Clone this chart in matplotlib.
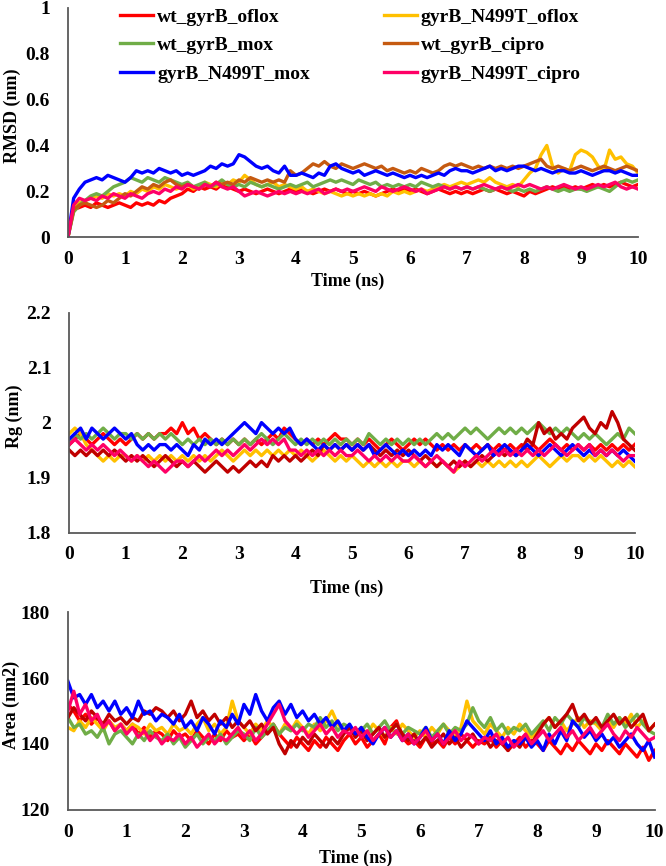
import numpy as np
import matplotlib
matplotlib.use("Agg")
import matplotlib.pyplot as plt

plt.rcParams['font.family'] = ['Liberation Serif', 'DejaVu Serif']
plt.rcParams['font.weight'] = 'bold'

time_ns = np.round(np.arange(0, 10.05, 0.1), 1)

labels = ['wt_gyrB_oflox', 'gyrB_N499T_oflox', 'wt_gyrB_mox',
          'wt_gyrB_cipro', 'gyrB_N499T_mox', 'gyrB_N499T_cipro']

# RMSD (nm)
rmsd_wt_oflox = [0.0, 0.12, 0.13, 0.14, 0.13, 0.15, 0.14, 0.13, 0.14, 0.15,
                 0.14, 0.13, 0.15, 0.14, 0.15, 0.14, 0.16, 0.15, 0.17, 0.18,
                 0.19, 0.21, 0.20, 0.22, 0.21, 0.22, 0.21, 0.23, 0.22, 0.21,
                 0.20, 0.21, 0.20, 0.19, 0.20, 0.21, 0.20, 0.19, 0.20, 0.21,
                 0.20, 0.21, 0.20, 0.19, 0.20, 0.21, 0.20, 0.21, 0.20, 0.19,
                 0.20, 0.19, 0.20, 0.19, 0.18, 0.19, 0.20, 0.21, 0.20, 0.21,
                 0.20, 0.21, 0.20, 0.19, 0.20, 0.21, 0.20, 0.19, 0.20, 0.19,
                 0.20, 0.19, 0.20, 0.21, 0.20, 0.21, 0.20, 0.19, 0.20, 0.19,
                 0.18, 0.20, 0.19, 0.20, 0.21, 0.22, 0.21, 0.22, 0.21, 0.22,
                 0.21, 0.22, 0.23, 0.22, 0.23, 0.22, 0.23, 0.24, 0.23, 0.22,
                 0.23]
rmsd_mut_oflox = [0.0, 0.13, 0.15, 0.16, 0.17, 0.18, 0.17, 0.19, 0.18, 0.19,
                  0.18, 0.20, 0.19, 0.21, 0.20, 0.22, 0.21, 0.23, 0.22, 0.21,
                  0.22, 0.23, 0.21, 0.22, 0.24, 0.23, 0.22, 0.24, 0.23, 0.25,
                  0.24, 0.27, 0.25, 0.23, 0.22, 0.23, 0.24, 0.22, 0.23, 0.22,
                  0.21, 0.22, 0.20, 0.21, 0.20, 0.19, 0.20, 0.19, 0.18, 0.19,
                  0.18, 0.19, 0.18, 0.19, 0.18, 0.19, 0.18, 0.20, 0.19, 0.20,
                  0.19, 0.20, 0.21, 0.20, 0.21, 0.22, 0.23, 0.22, 0.23, 0.24,
                  0.23, 0.24, 0.25, 0.24, 0.26, 0.24, 0.23, 0.22, 0.23, 0.22,
                  0.25, 0.28, 0.30, 0.36, 0.40, 0.31, 0.28, 0.30, 0.29, 0.36,
                  0.38, 0.37, 0.35, 0.31, 0.29, 0.38, 0.34, 0.35, 0.32, 0.31,
                  0.28]
rmsd_wt_mox = [0.0, 0.11, 0.14, 0.16, 0.18, 0.19, 0.18, 0.20, 0.22, 0.23,
               0.24, 0.26, 0.25, 0.24, 0.26, 0.25, 0.24, 0.26, 0.25, 0.24,
               0.23, 0.24, 0.22, 0.23, 0.24, 0.22, 0.23, 0.25, 0.23, 0.22,
               0.23, 0.22, 0.24, 0.23, 0.22, 0.23, 0.22, 0.21, 0.22, 0.23,
               0.22, 0.23, 0.24, 0.22, 0.23, 0.24, 0.25, 0.24, 0.25, 0.24,
               0.23, 0.25, 0.24, 0.23, 0.24, 0.22, 0.23, 0.22, 0.23, 0.22,
               0.23, 0.22, 0.24, 0.23, 0.22, 0.23, 0.22, 0.21, 0.22, 0.21,
               0.22, 0.21, 0.22, 0.21, 0.20, 0.21, 0.22, 0.21, 0.20, 0.21,
               0.20, 0.21, 0.20, 0.21, 0.22, 0.21, 0.20, 0.21, 0.20, 0.21,
               0.21, 0.20, 0.21, 0.22, 0.21, 0.20, 0.22, 0.24, 0.25, 0.24,
               0.25]
rmsd_wt_cipro = [0.0, 0.12, 0.14, 0.15, 0.14, 0.13, 0.14, 0.16, 0.15, 0.17,
                 0.19, 0.18, 0.20, 0.22, 0.21, 0.23, 0.22, 0.24, 0.25, 0.23,
                 0.22, 0.23, 0.22, 0.21, 0.23, 0.22, 0.24, 0.23, 0.24, 0.23,
                 0.25, 0.24, 0.26, 0.25, 0.24, 0.25, 0.24, 0.25, 0.24, 0.29,
                 0.27, 0.28, 0.30, 0.32, 0.31, 0.33, 0.31, 0.30, 0.32, 0.31,
                 0.30, 0.31, 0.32, 0.31, 0.30, 0.31, 0.29, 0.30, 0.29, 0.28,
                 0.29, 0.28, 0.30, 0.29, 0.28, 0.29, 0.31, 0.32, 0.31, 0.32,
                 0.31, 0.30, 0.31, 0.30, 0.31, 0.30, 0.31, 0.30, 0.31, 0.30,
                 0.31, 0.32, 0.33, 0.34, 0.31, 0.30, 0.31, 0.30, 0.29, 0.30,
                 0.31, 0.30, 0.29, 0.30, 0.31, 0.30, 0.29, 0.30, 0.31, 0.30,
                 0.29]
rmsd_mut_mox = [0.0, 0.17, 0.21, 0.24, 0.25, 0.26, 0.25, 0.27, 0.26, 0.25,
                0.24, 0.26, 0.29, 0.28, 0.29, 0.28, 0.30, 0.29, 0.28, 0.29,
                0.27, 0.28, 0.27, 0.28, 0.29, 0.31, 0.30, 0.32, 0.31, 0.32,
                0.36, 0.35, 0.33, 0.31, 0.30, 0.31, 0.29, 0.28, 0.31, 0.27,
                0.27, 0.28, 0.27, 0.26, 0.28, 0.27, 0.31, 0.32, 0.30, 0.29,
                0.28, 0.29, 0.27, 0.28, 0.29, 0.28, 0.27, 0.28, 0.27, 0.26,
                0.27, 0.26, 0.27, 0.26, 0.27, 0.28, 0.27, 0.29, 0.30, 0.29,
                0.29, 0.28, 0.29, 0.30, 0.31, 0.29, 0.30, 0.29, 0.30, 0.31,
                0.31, 0.30, 0.29, 0.30, 0.29, 0.28, 0.29, 0.29, 0.28, 0.28,
                0.29, 0.28, 0.27, 0.28, 0.29, 0.29, 0.28, 0.29, 0.28, 0.27,
                0.27]
rmsd_mut_cipro = [0.0, 0.14, 0.17, 0.16, 0.17, 0.16, 0.18, 0.17, 0.19, 0.18,
                  0.17, 0.19, 0.18, 0.17, 0.19, 0.20, 0.19, 0.21, 0.20, 0.22,
                  0.21, 0.23, 0.22, 0.21, 0.23, 0.22, 0.24, 0.22, 0.21, 0.22,
                  0.20, 0.18, 0.19, 0.20, 0.19, 0.18, 0.19, 0.20, 0.19, 0.20,
                  0.19, 0.20, 0.19, 0.20, 0.21, 0.19, 0.20, 0.21, 0.20, 0.21,
                  0.20, 0.21, 0.22, 0.21, 0.20, 0.22, 0.21, 0.20, 0.21, 0.22,
                  0.21, 0.20, 0.21, 0.19, 0.20, 0.21, 0.22, 0.21, 0.22, 0.21,
                  0.22, 0.21, 0.22, 0.23, 0.22, 0.21, 0.22, 0.21, 0.22, 0.23,
                  0.22, 0.23, 0.22, 0.21, 0.22, 0.21, 0.22, 0.23, 0.22, 0.21,
                  0.22, 0.21, 0.22, 0.23, 0.22, 0.23, 0.24, 0.22, 0.21, 0.22,
                  0.21]

# Rg (nm)
rg_wt_oflox = [1.96, 1.97, 1.98, 1.97, 1.96, 1.97, 1.98, 1.97, 1.96, 1.97,
               1.96, 1.97, 1.98, 1.97, 1.98, 1.97, 1.98, 1.98, 1.99, 1.98,
               2.00, 1.98, 1.99, 1.97, 1.98, 1.97, 1.96, 1.97, 1.96, 1.97,
               1.96, 1.97, 1.96, 1.97, 1.96, 1.97, 1.98, 1.97, 1.99, 1.98,
               1.97, 1.96, 1.97, 1.96, 1.97, 1.96, 1.97, 1.98, 1.97, 1.97,
               1.96, 1.97, 1.96, 1.97, 1.96, 1.95, 1.96, 1.97, 1.96, 1.95,
               1.96, 1.97, 1.96, 1.97, 1.96, 1.95, 1.96, 1.95, 1.96, 1.95,
               1.96, 1.95, 1.96, 1.95, 1.96, 1.95, 1.96, 1.95, 1.96, 1.95,
               1.96, 1.95, 1.96, 1.95, 1.96, 1.97, 1.96, 1.95, 1.96, 1.95,
               1.96, 1.95, 1.96, 1.95, 1.96, 1.95, 1.96, 1.95, 1.96, 1.95,
               1.96]
rg_mut_oflox = [1.98, 1.99, 1.98, 1.96, 1.95, 1.94, 1.93, 1.94, 1.93, 1.94,
                1.94, 1.93, 1.94, 1.93, 1.94, 1.93, 1.94, 1.93, 1.94, 1.93,
                1.94, 1.93, 1.94, 1.93, 1.94, 1.93, 1.94, 1.95, 1.94, 1.93,
                1.94, 1.95, 1.94, 1.95, 1.94, 1.95, 1.94, 1.95, 1.94, 1.95,
                1.94, 1.95, 1.94, 1.93, 1.94, 1.95, 1.94, 1.93, 1.94, 1.93,
                1.94, 1.93, 1.92, 1.93, 1.92, 1.93, 1.92, 1.93, 1.92, 1.93,
                1.93, 1.92, 1.93, 1.92, 1.93, 1.92, 1.93, 1.92, 1.91, 1.92,
                1.93, 1.92, 1.93, 1.92, 1.93, 1.92, 1.93, 1.92, 1.93, 1.92,
                1.93, 1.92, 1.93, 1.94, 1.93, 1.92, 1.93, 1.94, 1.93, 1.94,
                1.94, 1.93, 1.94, 1.93, 1.94, 1.93, 1.92, 1.93, 1.92, 1.93,
                1.92]
rg_wt_mox = [1.96, 1.98, 1.97, 1.98, 1.97, 1.98, 1.99, 1.98, 1.97, 1.98,
             1.98, 1.97, 1.98, 1.97, 1.98, 1.97, 1.98, 1.97, 1.98, 1.97,
             1.96, 1.97, 1.96, 1.97, 1.96, 1.97, 1.96, 1.97, 1.96, 1.97,
             1.96, 1.97, 1.96, 1.97, 1.98, 1.97, 1.96, 1.97, 1.98, 1.97,
             1.96, 1.97, 1.96, 1.97, 1.96, 1.97, 1.96, 1.97, 1.96, 1.97,
             1.96, 1.97, 1.96, 1.98, 1.97, 1.96, 1.97, 1.96, 1.97, 1.96,
             1.97, 1.96, 1.97, 1.96, 1.97, 1.98, 1.97, 1.98, 1.97, 1.98,
             1.99, 1.98, 1.99, 1.98, 1.97, 1.98, 1.99, 1.98, 1.99, 1.98,
             1.99, 1.98, 1.99, 2.00, 1.99, 1.98, 1.99, 1.98, 1.99, 1.98,
             1.97, 1.98, 1.97, 1.98, 1.97, 1.96, 1.97, 1.98, 1.97, 1.99,
             1.98]
rg_wt_cipro = [1.95, 1.94, 1.95, 1.94, 1.95, 1.94, 1.95, 1.94, 1.95, 1.94,
               1.93, 1.94, 1.93, 1.94, 1.93, 1.92, 1.93, 1.94, 1.93, 1.92,
               1.93, 1.92, 1.93, 1.92, 1.91, 1.92, 1.93, 1.92, 1.91, 1.92,
               1.91, 1.92, 1.93, 1.92, 1.93, 1.92, 1.94, 1.93, 1.94, 1.93,
               1.94, 1.93, 1.94, 1.95, 1.94, 1.96, 1.95, 1.96, 1.95, 1.96,
               1.95, 1.96, 1.95, 1.96, 1.95, 1.94, 1.95, 1.94, 1.95, 1.94,
               1.95, 1.94, 1.93, 1.94, 1.93, 1.92, 1.93, 1.92, 1.93, 1.92,
               1.93, 1.92, 1.93, 1.94, 1.93, 1.94, 1.95, 1.94, 1.95, 1.94,
               1.95, 1.97, 1.96, 2.00, 1.98, 1.99, 1.97, 1.98, 1.97, 1.99,
               2.00, 2.01, 1.99, 1.98, 2.00, 1.99, 2.02, 2.00, 1.97, 1.96,
               1.95]
rg_mut_mox = [1.97, 1.98, 1.99, 1.97, 1.99, 1.98, 1.97, 1.98, 1.99, 1.98,
              1.97, 1.98, 1.96, 1.95, 1.96, 1.95, 1.96, 1.96, 1.95, 1.96,
              1.95, 1.94, 1.96, 1.95, 1.97, 1.96, 1.97, 1.96, 1.97, 1.98,
              1.99, 2.00, 1.99, 1.98, 2.00, 1.99, 1.98, 1.99, 1.98, 1.99,
              1.97, 1.96, 1.97, 1.96, 1.95, 1.96, 1.95, 1.96, 1.95, 1.96,
              1.95, 1.96, 1.95, 1.96, 1.94, 1.95, 1.96, 1.95, 1.94, 1.95,
              1.94, 1.95, 1.94, 1.95, 1.94, 1.96, 1.95, 1.96, 1.95, 1.94,
              1.96, 1.95, 1.94, 1.95, 1.96, 1.94, 1.95, 1.96, 1.95, 1.94,
              1.95, 1.96, 1.95, 1.94, 1.95, 1.96, 1.95, 1.94, 1.95, 1.96,
              1.95, 1.94, 1.95, 1.94, 1.95, 1.94, 1.95, 1.94, 1.95, 1.94,
              1.93]
rg_mut_cipro = [1.96, 1.97, 1.96, 1.95, 1.96, 1.95, 1.96, 1.95, 1.94, 1.95,
                1.94, 1.93, 1.94, 1.93, 1.92, 1.93, 1.92, 1.91, 1.92, 1.93,
                1.93, 1.92, 1.93, 1.94, 1.93, 1.94, 1.95, 1.94, 1.95, 1.94,
                1.95, 1.96, 1.95, 1.96, 1.97, 1.96, 1.97, 1.96, 1.97, 1.95,
                1.95, 1.94, 1.95, 1.94, 1.95, 1.94, 1.95, 1.94, 1.95, 1.94,
                1.94, 1.95, 1.94, 1.93, 1.94, 1.93, 1.94, 1.93, 1.94, 1.93,
                1.93, 1.94, 1.93, 1.92, 1.93, 1.94, 1.93, 1.92, 1.91, 1.93,
                1.92, 1.93, 1.94, 1.93, 1.94, 1.95, 1.94, 1.95, 1.94, 1.95,
                1.94, 1.95, 1.94, 1.95, 1.94, 1.95, 1.96, 1.95, 1.94, 1.95,
                1.96, 1.95, 1.96, 1.94, 1.95, 1.94, 1.95, 1.94, 1.93, 1.94,
                1.94]

# SASA area (nm2)
area_wt_oflox = [152, 150, 147, 149, 146, 148, 145, 147, 144, 146,
                 144, 146, 143, 145, 142, 144, 143, 141, 144, 142,
                 143, 141, 144, 142, 140, 143, 141, 144, 142, 143,
                 141, 143, 140, 142, 144, 146, 143, 141, 139, 142,
                 140, 138, 141, 139, 142, 140, 138, 141, 143, 140,
                 142, 139, 141, 143, 140, 145, 147, 142, 140, 141,
                 139, 142, 140, 141, 139, 142, 140, 143, 141, 139,
                 141, 140, 142, 139, 141, 138, 140, 142, 139, 141,
                 140, 138, 141, 139, 137, 140, 138, 141, 139, 137,
                 140, 138, 141, 139, 137, 140, 138, 136, 139, 135,
                 138]
area_mut_oflox = [145, 144, 147, 145, 148, 146, 144, 147, 145, 146,
                  144, 146, 145, 143, 146, 144, 145, 143, 146, 144,
                  145, 143, 146, 148, 144, 146, 143, 145, 153, 147,
                  145, 143, 146, 144, 147, 145, 143, 146, 144, 147,
                  145, 143, 146, 144, 147, 150, 146, 144, 145, 143,
                  145, 143, 146, 144, 142, 145, 143, 146, 144, 142,
                  144, 142, 145, 143, 146, 144, 142, 145, 153, 147,
                  145, 143, 146, 144, 142, 145, 143, 146, 144, 142,
                  144, 146, 148, 145, 147, 144, 146, 148, 145, 147,
                  146, 144, 147, 145, 148, 146, 149, 145, 147, 144,
                  146]
area_wt_mox = [148, 145, 146, 143, 144, 142, 145, 140, 143, 144,
               142, 140, 143, 141, 144, 142, 141, 143, 140, 142,
               139, 141, 143, 140, 142, 141, 143, 140, 142, 144,
               143, 141, 145, 142, 144, 146, 143, 145, 144, 146,
               144, 146, 145, 148, 145, 147, 144, 146, 145, 143,
               144, 146, 143, 145, 147, 144, 146, 143, 145, 144,
               143, 145, 142, 144, 146, 143, 145, 144, 146, 151,
               147, 145, 148, 144, 146, 143, 145, 144, 146, 143,
               145, 147, 144, 148, 146, 149, 147, 145, 148, 146,
               147, 145, 149, 146, 148, 145, 147, 149, 146, 144,
               143]
area_wt_cipro = [148, 151, 149, 147, 150, 148, 146, 149, 147, 148,
                 146, 148, 147, 150, 149, 151, 150, 148, 150, 147,
                 149, 153, 148, 150, 147, 149, 146, 148, 145, 147,
                 145, 147, 144, 146, 143, 145, 140, 137, 141, 139,
                 142, 140, 143, 141, 139, 142, 140, 143, 145, 142,
                 144, 141, 143, 145, 142, 144, 146, 143, 141, 143,
                 140, 142, 139, 141, 143, 140, 142, 139, 141, 143,
                 140, 142, 139, 141, 140, 138, 141, 139, 142, 140,
                 143, 146, 148, 145, 147, 149, 152, 147, 149, 146,
                 148, 145, 147, 149, 146, 148, 145, 147, 149, 144,
                 146]
area_mut_mox = [159, 154, 155, 152, 155, 151, 153, 150, 153, 149,
                151, 148, 153, 149, 150, 147, 149, 148, 146, 149,
                145, 147, 144, 148, 146, 143, 147, 145, 149, 146,
                152, 149, 155, 150, 147, 151, 153, 149, 152, 148,
                150, 147, 149, 146, 148, 145, 147, 144, 146, 143,
                145, 142, 140, 143, 145, 142, 144, 141, 143, 140,
                142, 145, 141, 143, 140, 144, 141, 143, 147, 145,
                143, 141, 144, 140, 142, 139, 141, 140, 142, 139,
                141, 138, 143, 140, 144, 141, 147, 145, 142, 144,
                141, 143, 140, 142, 139, 141, 143, 140, 138, 141,
                136]
area_mut_cipro = [150, 156, 149, 152, 147, 149, 145, 147, 144, 146,
                  143, 145, 142, 144, 141, 143, 140, 142, 141, 143,
                  140, 142, 139, 141, 143, 140, 142, 141, 143, 145,
                  142, 144, 141, 143, 146, 149, 152, 147, 145, 143,
                  145, 142, 144, 146, 143, 145, 142, 144, 143, 145,
                  142, 144, 141, 143, 145, 142, 144, 141, 143, 140,
                  142, 144, 141, 143, 140, 142, 144, 141, 143, 142,
                  140, 142, 141, 143, 140, 142, 139, 141, 143, 140,
                  142, 144, 141, 143, 145, 142, 144, 141, 143, 145,
                  142, 144, 146, 143, 141, 144, 142, 145, 143, 141,
                  142]

panels = [
    ([rmsd_wt_oflox, rmsd_mut_oflox, rmsd_wt_mox, rmsd_wt_cipro, rmsd_mut_mox, rmsd_mut_cipro],
     'RMSD (nm)', (0, 1), [0, 0.2, 0.4, 0.6, 0.8, 1], ['0', '0.2', '0.4', '0.6', '0.8', '1'], '#C55A11'),
    ([rg_wt_oflox, rg_mut_oflox, rg_wt_mox, rg_wt_cipro, rg_mut_mox, rg_mut_cipro],
     'Rg (nm)', (1.8, 2.2), [1.8, 1.9, 2.0, 2.1, 2.2], ['1.8', '1.9', '2', '2.1', '2.2'], '#C00000'),
    ([area_wt_oflox, area_mut_oflox, area_wt_mox, area_wt_cipro, area_mut_mox, area_mut_cipro],
     'Area (nm2)', (120, 180), [120, 140, 160, 180], ['120', '140', '160', '180'], '#C00000'),
]

# axes boxes in figure fraction [left, bottom, width, height]
boxes = [[0.102, 0.726, 0.856, 0.265],
         [0.104, 0.385, 0.849, 0.254],
         [0.102, 0.065, 0.881, 0.228]]
xlabel_y = [-0.155, -0.215, -0.2]

fig = plt.figure(figsize=(6.66, 8.66), dpi=100)

for i, (series, ylab, ylim, yt, ytl, cipro_col) in enumerate(panels):
    ax = fig.add_axes(boxes[i])
    colors = ['#FF0000', '#FFC000', '#70AD47', cipro_col, '#0000FF', '#FF0066']
    handles = []
    for s, c, lab in zip(series, colors, labels):
        h, = ax.plot(time_ns, s, color=c, lw=2.4, label=lab)
        handles.append(h)
    ax.set_xlim(0, 10)
    ax.set_ylim(*ylim)
    ax.set_xticks(range(11))
    ax.set_yticks(yt)
    ax.set_yticklabels(ytl)
    ax.tick_params(length=0, labelsize=14, pad=10)
    ax.tick_params(axis='y', pad=13)
    for lbl in ax.get_xticklabels() + ax.get_yticklabels():
        lbl.set_fontweight('bold')
    for side in ['top', 'right']:
        ax.spines[side].set_visible(False)
    for side in ['left', 'bottom']:
        ax.spines[side].set_color('#595959')
        ax.spines[side].set_linewidth(1.3)
    ax.set_ylabel(ylab, fontsize=13, fontweight='bold')
    ax.yaxis.set_label_coords(-0.082, 0.53)
    ax.set_xlabel('Time (ns)', fontsize=13, fontweight='bold')
    ax.xaxis.set_label_coords(0.49, xlabel_y[i])
    if i == 0:
        order = [0, 2, 4, 1, 3, 5]
        ax.legend([handles[k] for k in order], [labels[k] for k in order],
                  ncol=2, frameon=False, loc='upper left',
                  bbox_to_anchor=(0.075, 1.04), borderpad=0,
                  handlelength=1.7, handletextpad=0.2, columnspacing=3.8,
                  labelspacing=0.55, prop={'size': 14, 'weight': 'bold'})

fig.savefig('out.png', dpi=100)
